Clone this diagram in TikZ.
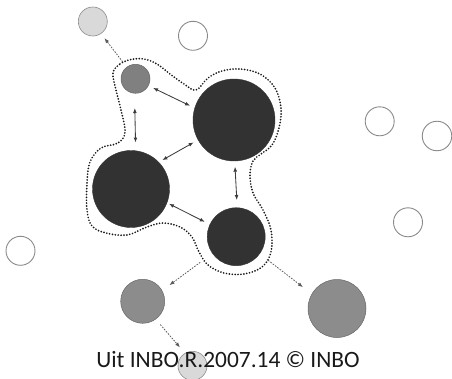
\documentclass[tikz,border=0pt]{standalone}
\usepackage{fontspec}
\setmainfont{Carlito}
\usetikzlibrary{arrows.meta}
\definecolor{darkc}{HTML}{323232}
\definecolor{medc}{HTML}{8C8C8C}
\definecolor{medc2}{HTML}{808080}
\definecolor{lightc}{HTML}{D9D9D9}
\definecolor{rimc}{HTML}{8A8A8A}
\definecolor{arrc}{HTML}{3C3C3C}
\tikzset{
  blob/.style={circle, inner sep=0pt, minimum size=#1},
  darkball/.style={blob=#1, fill=darkc, draw=darkc, line width=0.4pt},
  medball/.style={blob=#1, fill=medc, draw=black!60, line width=0.5pt},
  lightball/.style={blob=#1, fill=lightc, draw=black!45, line width=0.6pt},
  emptyball/.style={blob=#1, fill=white, draw=rimc, line width=0.9pt},
  link/.style={draw=arrc, line width=0.85pt, {Latex[length=5pt,width=3.8pt]}-{Latex[length=5pt,width=3.8pt]}},
  spread/.style={draw=black!65, line width=0.8pt, dash pattern=on 1.6pt off 1.3pt, -{Latex[length=5pt,width=3.8pt]}},
  fence/.style={draw=black!90, line width=1.9pt, line cap=round, dash pattern=on 0pt off 2.9pt}
}
\begin{document}
\begin{tikzpicture}[x=1pt,y=-1pt]
\useasboundingbox (0,0) rectangle (452,379);
% dotted outline
\draw[fence] plot[smooth cycle, tension=0.6] coordinates {
 (113,73) (120,64) (131,59.5) (144,59) (157,64) (170,74) (184,84) (196,90)
 (208,78) (222,71) (240,69) (260,74) (275,88) (281,108) (279,128) (272,145)
 (261,154) (253,161) (250,175) (253,193) (263,210) (271,230) (271,252)
 (262,267) (244,274) (224,273) (208,265) (199,252) (192,237) (180,227)
 (163,223) (147,227) (127,235) (106,233) (92,226) (87,210) (87,183) (90,162)
 (101,148) (118,143) (125,132) (121,110) (116,90)};
% circles
\node[lightball=29pt] (tl) at (92.8,21.5) {};
\node[emptyball=29pt] (wt) at (193,35.8) {};
\node[medball=29pt, fill=medc2] (s) at (135.5,78.8) {};
\node[darkball=82pt] (bt) at (234,120) {};
\node[darkball=77pt] (bl) at (131,189) {};
\node[darkball=58pt] (lr) at (236.2,236.7) {};
\node[emptyball=29pt] (w1) at (379.7,121.3) {};
\node[emptyball=29.5pt] (w2) at (437,136) {};
\node[emptyball=29pt] (w3) at (408,222.3) {};
\node[emptyball=29pt] (w4) at (20.5,250.8) {};
\node[medball=44pt] (ll) at (142.7,301.3) {};
\node[medball=58pt] (lrm) at (337,308.5) {};
\node[lightball=29pt] (bc) at (192.5,365.8) {};
% interaction arrows
\draw[link, shorten <=5pt, shorten >=5pt] (s.332) -- (bt.163);
\draw[link, shorten <=14.5pt, shorten >=8pt] (s.266) -- (bl.83);
\draw[link, shorten <=4pt, shorten >=5pt] (bl.44) -- (bt.209);
\draw[link, shorten <=5.5pt, shorten >=7.5pt] (bt.271) -- (lr.88);
\draw[link, shorten <=2pt, shorten >=5.5pt] (bl.339) -- (lr.155);
% dispersal arrows
\draw[spread, shorten <=6.5pt, shorten >=5.5pt] (s.127) -- (tl.304);
\draw[spread, shorten <=15pt, shorten >=9pt] (lr.215) -- (ll.29);
\draw[spread, shorten <=10.5pt, shorten >=11pt] (lr.324) -- (lrm.150);
\draw[spread, shorten <=7pt, shorten >=7.5pt] (ll.306) -- (bc.121);
% caption
\node[anchor=base, inner sep=0pt, font=\fontsize{23.4}{28}\selectfont, text=black!90] (cap) at (228,367) {Uit INBO.R.2007.14 © INBO};
\end{tikzpicture}
\end{document}
